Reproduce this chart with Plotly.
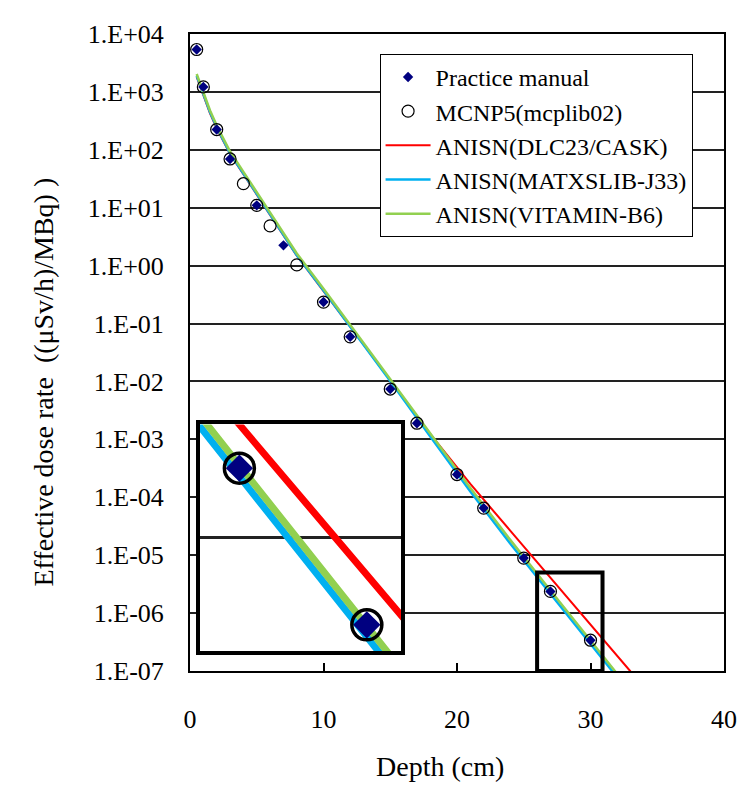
import plotly.graph_objects as go

# ---------------- data ----------------
depth_manual = [0.5, 1, 2, 3, 5, 7, 10, 12, 15, 17, 20, 22, 25, 27, 30]
dose_manual = [5.4e3, 1.22e3, 2.24e2, 6.95e1, 1.1e1, 2.24, 2.35e-1, 5.9e-2, 7.4e-3,
               1.9e-3, 2.47e-4, 6.5e-5, 8.9e-6, 2.37e-6, 3.4e-7]

depth_mcnp = [0.5, 1, 2, 3, 4, 5, 6, 8, 10, 12, 15, 17, 20, 22, 25, 27, 30]
dose_mcnp = [5.4e3, 1.22e3, 2.24e2, 6.95e1, 2.6e1, 1.1e1, 4.85, 1.03, 2.35e-1, 5.9e-2,
             7.4e-3, 1.9e-3, 2.47e-4, 6.5e-5, 8.9e-6, 2.37e-6, 3.4e-7]

depth_dlc = [0.5, 1, 1.5, 2, 2.5, 3, 4, 5, 6, 7, 8, 10, 12, 15, 18, 21, 24, 27, 30, 33]
dose_dlc = [1820, 851, 427, 234, 141, 85.1, 38.0, 17.0, 7.76, 3.39, 1.48, 0.363, 0.0891,
            0.0105, 1.23e-3, 1.70e-4, 2.63e-5, 4.07e-6, 6.31e-7, 9.8e-8]

depth_j33 = [0.5, 1, 1.5, 2, 2.5, 3, 4, 5, 6, 7, 8, 10, 12, 15, 18, 21, 24, 27, 30, 32]
dose_j33 = [1905, 891, 447, 245, 145, 87.1, 38.9, 17.4, 7.94, 3.47, 1.51, 0.372, 0.0891,
            0.0102, 1.12e-3, 1.26e-4, 1.58e-5, 2.14e-6, 2.95e-7, 7.8e-8]

depth_b6 = [0.5, 1, 1.5, 2, 2.5, 3, 4, 5, 6, 7, 8, 10, 12, 15, 18, 21, 24, 27, 30, 32]
dose_b6 = [2042, 955, 479, 263, 155, 93.3, 41.7, 18.6, 8.51, 3.72, 1.62, 0.398, 0.0955,
           0.0112, 1.26e-3, 1.45e-4, 1.82e-5, 2.45e-6, 3.39e-7, 8.9e-8]

y_tickvals = [1e4, 1e3, 1e2, 1e1, 1e0, 1e-1, 1e-2, 1e-3, 1e-4, 1e-5, 1e-6, 1e-7]
y_ticktext = ["1.E+04", "1.E+03", "1.E+02", "1.E+01", "1.E+00", "1.E-01", "1.E-02",
              "1.E-03", "1.E-04", "1.E-05", "1.E-06", "1.E-07"]
x_tickvals = [0, 10, 20, 30, 40]

names = ["Practice manual", "MCNP5(mcplib02)", "ANISN(DLC23/CASK)",
         "ANISN(MATXSLIB-J33)", "ANISN(VITAMIN-B6)"]

# ---------------- styles ----------------
FONT = "Liberation Serif, Times New Roman, serif"
NAVY = "#000080"
RED = "#FF0000"
BLUE = "#00B0F0"
GREEN = "#92D050"

fig = go.Figure()

line_sets = [
    (depth_dlc, dose_dlc, RED, 2, names[2], 3),
    (depth_j33, dose_j33, BLUE, 2.5, names[3], 4),
    (depth_b6, dose_b6, GREEN, 2.5, names[4], 5),
]

# main plot lines
for xs, ys, col, w, nm, rank in line_sets:
    fig.add_trace(go.Scatter(x=xs, y=ys, mode="lines", name=nm, legendrank=rank,
                             line=dict(color=col, width=w), xaxis="x", yaxis="y"))

fig.add_trace(go.Scatter(x=depth_manual, y=dose_manual, mode="markers", name=names[0],
                         legendrank=1,
                         marker=dict(symbol="diamond", size=8, color=NAVY, line=dict(width=0)),
                         xaxis="x", yaxis="y"))
fig.add_trace(go.Scatter(x=depth_mcnp, y=dose_mcnp, mode="markers", name=names[1],
                         legendrank=2,
                         marker=dict(symbol="circle-open", size=12, color="black",
                                     line=dict(width=1.2, color="black")),
                         xaxis="x", yaxis="y"))

# inset (zoomed) plot
for xs, ys, col, w, nm, rank in line_sets:
    fig.add_trace(go.Scatter(x=xs, y=ys, mode="lines", showlegend=False,
                             line=dict(color=col, width=7), xaxis="x2", yaxis="y2"))
fig.add_trace(go.Scatter(x=depth_manual, y=dose_manual, mode="markers", showlegend=False,
                         marker=dict(symbol="diamond", size=21, color=NAVY, line=dict(width=0)),
                         xaxis="x2", yaxis="y2"))
fig.add_trace(go.Scatter(x=depth_mcnp, y=dose_mcnp, mode="markers", showlegend=False,
                         marker=dict(symbol="circle-open", size=30, color="black",
                                     line=dict(width=3.5, color="black")),
                         xaxis="x2", yaxis="y2"))

fig.update_layout(
    width=741, height=778,
    margin=dict(l=182, r=18, t=22, b=115),
    paper_bgcolor="white",
    plot_bgcolor="white",
    font=dict(family=FONT, color="black", size=24),
    xaxis=dict(range=[0, 40], tickvals=x_tickvals, ticks="inside", ticklen=8,
               tickwidth=1.5, tickcolor="black", showgrid=False, zeroline=False,
               showline=True, mirror=True, linecolor="black", linewidth=2,
               tickfont=dict(family=FONT, size=26), ticklabelstandoff=24, domain=[0, 1]),
    yaxis=dict(type="log", range=[-7, 4], tickvals=y_tickvals, ticktext=y_ticktext,
               ticks="", showgrid=True, gridcolor="#222222", gridwidth=1.6,
               zeroline=False, showline=True, mirror=True, linecolor="black",
               linewidth=2, tickfont=dict(family=FONT, size=26),
               ticklabelstandoff=19, domain=[0, 1]),
    xaxis2=dict(domain=[0.0185, 0.3956], anchor="y2", range=[26.07, 30.81],
                showticklabels=False, ticks="", showgrid=False, zeroline=False,
                showline=True, mirror=True, linecolor="black", linewidth=4),
    yaxis2=dict(domain=[0.0312, 0.387], anchor="x2", type="log", range=[-6.61, -5.39],
                showticklabels=False, ticks="", showgrid=True, gridcolor="#222222",
                gridwidth=2.5, dtick=1, zeroline=False, showline=True, mirror=True,
                linecolor="black", linewidth=4),
    legend=dict(x=0.355, y=0.9688, xanchor="left", yanchor="top", bgcolor="white",
                bordercolor="black", borderwidth=1, font=dict(family=FONT, size=24),
                itemwidth=45, tracegroupgap=0, entrywidth=270, entrywidthmode="pixels"),
    showlegend=True,
)

# white background for inset so main-plot content is hidden
fig.add_shape(type="rect", xref="x2", yref="y2", x0=20, x1=40, y0=1e-9, y1=1e-4,
              fillcolor="white", line=dict(width=0), layer="below")
# small box marking the zoomed region
fig.add_shape(type="rect", xref="x", yref="y", x0=26, x1=30.9, y0=1e-7, y1=5e-6,
              line=dict(color="black", width=4), fillcolor="rgba(0,0,0,0)", layer="above")

fig.add_annotation(text="Depth (cm)", xref="paper", yref="paper", x=0.4677, y=-0.1498,
                   xanchor="center", yanchor="middle", showarrow=False,
                   font=dict(family=FONT, size=28))
fig.add_annotation(text="Effective dose rate  ((μSv/h)/MBq) )", xref="paper", yref="paper",
                   x=-0.274, y=0.454, xanchor="center", yanchor="middle", textangle=-90,
                   showarrow=False, font=dict(family=FONT, size=28))

fig.write_html("out.html")
